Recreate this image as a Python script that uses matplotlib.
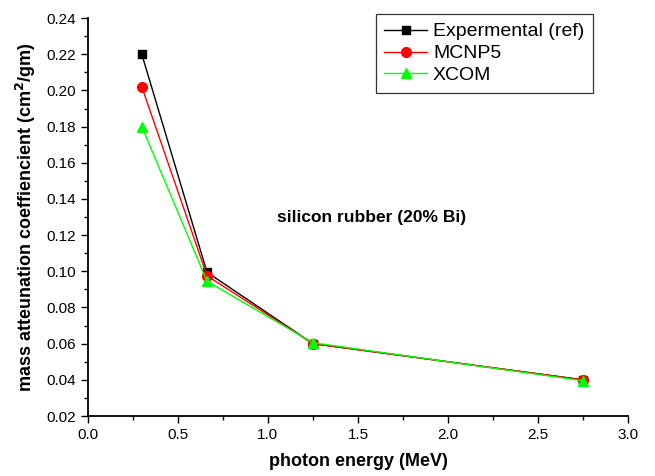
import matplotlib
matplotlib.use('Agg')
import matplotlib.pyplot as plt
from matplotlib.ticker import MultipleLocator

plt.rcParams['font.family'] = ['Liberation Sans', 'DejaVu Sans']

energy = [0.3, 0.662, 1.25, 2.75]
experimental = [0.220, 0.0995, 0.060, 0.040]
mcnp5 = [0.202, 0.0975, 0.060, 0.040]
xcom = [0.180, 0.0945, 0.0605, 0.0395]

fig = plt.figure(figsize=(6.55, 4.76), dpi=100)
ax = fig.add_axes([0.134, 0.126, 0.825, 0.836])

ax.plot(energy, experimental, color='black', lw=1, marker='s', ms=6, label='Expermental (ref)')
ax.plot(energy, mcnp5, color='red', lw=1, marker='o', ms=7, label='MCNP5')
ax.plot(energy, xcom, color='#00ff00', lw=1, marker='^', ms=7.5, label='XCOM')

ax.set_xlim(0.0, 3.0)
ax.set_ylim(0.02, 0.24)
ax.xaxis.set_major_locator(MultipleLocator(0.5))
ax.xaxis.set_minor_locator(MultipleLocator(0.25))
ax.yaxis.set_major_locator(MultipleLocator(0.02))
ax.yaxis.set_minor_locator(MultipleLocator(0.01))
ax.xaxis.set_major_formatter(plt.FormatStrFormatter('%.1f'))
ax.yaxis.set_major_formatter(plt.FormatStrFormatter('%.2f'))
ax.tick_params(which='both', direction='out', labelsize=11, width=1)
ax.tick_params(which='major', length=5)
ax.tick_params(which='minor', length=3)

for side in ['top', 'right']:
    ax.spines[side].set_visible(False)
for side in ['left', 'bottom']:
    ax.spines[side].set_linewidth(1.3)

ax.set_xlabel('photon energy (MeV)', fontsize=13, fontweight='bold', labelpad=8)
ax.set_ylabel('mass atteunation coeffiencient (cm$^\\mathbf{2}$/gm)', fontsize=13, fontweight='bold', labelpad=6)
ax.text(1.048, 0.1295, 'silicon rubber (20% Bi)', fontsize=12.5, fontweight='bold', va='center')

leg = ax.legend(loc='upper right', bbox_to_anchor=(0.935, 1.01), fontsize=14, fancybox=False,
                edgecolor='black', handlelength=2.2, borderpad=0.45, labelspacing=0.22,
                handletextpad=0.3, borderaxespad=0)
leg.get_frame().set_linewidth(0.9)

fig.savefig('out.png', dpi=100)
